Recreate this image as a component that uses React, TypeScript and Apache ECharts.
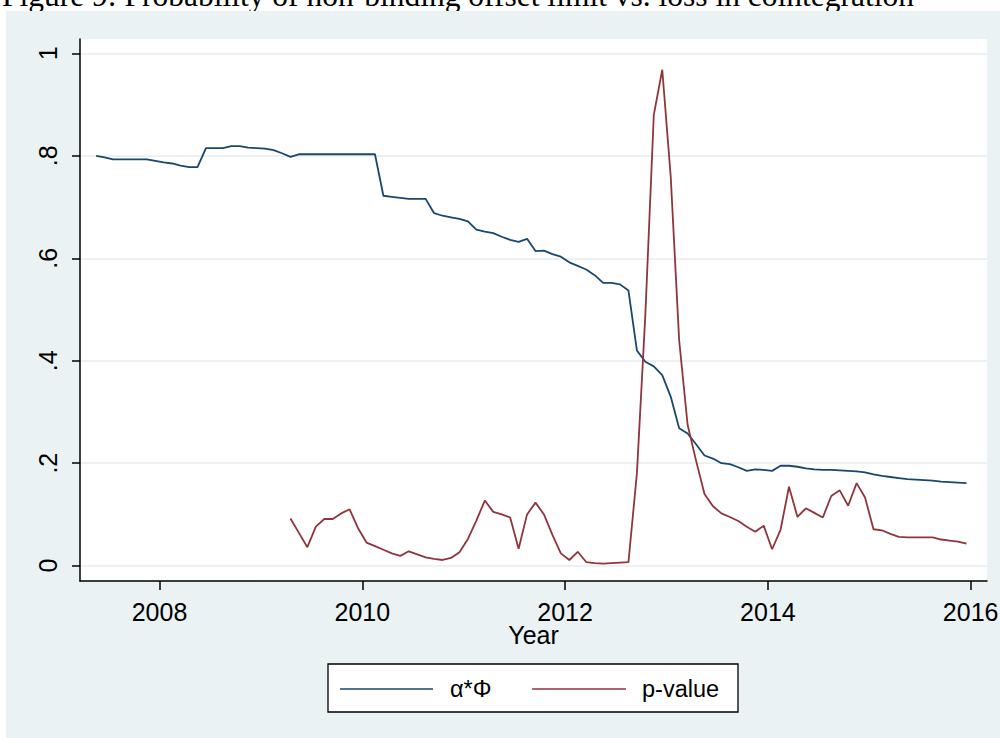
import React, { useEffect, useRef } from 'react';
import * as echarts from 'echarts';

const titleText = 'Figure 9: Probability of non-binding offset limit vs. loss in cointegration';
const seriesNames = ['α*Φ', 'p-value'];
const xAxisTitle = 'Year';

const alphaPhiStart = { year: 2007, month: 5 };
const pValueStart = { year: 2009, month: 4 };

const alphaPhi = [
  // 2007 (May–Dec)
  0.800, 0.797, 0.793, 0.793, 0.793, 0.793, 0.793, 0.790,
  // 2008
  0.787, 0.785, 0.781, 0.778, 0.778, 0.815, 0.815, 0.815, 0.819, 0.819, 0.816, 0.815,
  // 2009
  0.814, 0.811, 0.805, 0.798, 0.803, 0.803, 0.803, 0.803, 0.803, 0.803, 0.803, 0.803,
  // 2010
  0.803, 0.803, 0.722, 0.720, 0.718, 0.716, 0.716, 0.716, 0.688, 0.683, 0.680, 0.677,
  // 2011
  0.672, 0.656, 0.652, 0.649, 0.642, 0.636, 0.632, 0.638, 0.614, 0.615, 0.608, 0.603,
  // 2012
  0.592, 0.585, 0.578, 0.567, 0.552, 0.552, 0.549, 0.537, 0.420, 0.398, 0.389, 0.372,
  // 2013
  0.330, 0.268, 0.258, 0.237, 0.215, 0.209, 0.200, 0.198, 0.192, 0.185, 0.188, 0.187,
  // 2014
  0.185, 0.195, 0.195, 0.193, 0.190, 0.188, 0.187, 0.187, 0.186, 0.185, 0.184, 0.182,
  // 2015
  0.178, 0.175, 0.173, 0.171, 0.169, 0.168, 0.167, 0.166, 0.164, 0.163, 0.162, 0.161,
];

const pValue = [
  // 2009 (Apr–Dec)
  0.092, 0.064, 0.036, 0.076, 0.091, 0.091, 0.102, 0.110, 0.073,
  // 2010
  0.045, 0.038, 0.031, 0.024, 0.019, 0.028, 0.022, 0.016, 0.013, 0.011, 0.015, 0.026,
  // 2011
  0.052, 0.088, 0.127, 0.105, 0.100, 0.094, 0.033, 0.100, 0.123, 0.100, 0.060, 0.024,
  // 2012
  0.011, 0.027, 0.007, 0.005, 0.004, 0.005, 0.006, 0.007, 0.180, 0.490, 0.880, 0.968,
  // 2013
  0.760, 0.440, 0.275, 0.205, 0.140, 0.116, 0.102, 0.095, 0.087, 0.076, 0.066, 0.078,
  // 2014
  0.032, 0.070, 0.154, 0.095, 0.112, 0.103, 0.094, 0.136, 0.147, 0.117, 0.161, 0.133,
  // 2015
  0.071, 0.069, 0.062, 0.056, 0.055, 0.055, 0.055, 0.055, 0.051, 0.049, 0.047, 0.043,
];

const xTicks = [2008, 2010, 2012, 2014, 2016];
const yTicks = [0, 0.2, 0.4, 0.6, 0.8, 1];
const yTickLabels = ['0', '.2', '.4', '.6', '.8', '1'];

const NAVY = '#1a476f';
const MAROON = '#90353b';
const BG = '#eaf2f3';
const SANS = '"Liberation Sans", Arial, Helvetica, sans-serif';
const SERIF = '"Liberation Serif", "Times New Roman", serif';

function monthPosition(start: { year: number; month: number }, i: number) {
  const m = start.month - 1 + i;
  return start.year + (m + 0.5) / 12;
}

function buildOption() {
  const blueData = alphaPhi.map((v, i) => [monthPosition(alphaPhiStart, i), v]);
  const redData = pValue.map((v, i) => [monthPosition(pValueStart, i), v]);

  return {
    animation: false,
    backgroundColor: '#ffffff',
    grid: { left: 80, top: 39, width: 907, height: 542, show: false, containLabel: false, outerBoundsMode: 'none' },
    xAxis: {
      type: 'value',
      min: 2007.216,
      max: 2016.161,
      name: xAxisTitle,
      nameLocation: 'middle',
      nameGap: 41,
      nameMoveOverlap: false,
      nameTextStyle: { fontSize: 25, color: '#000', fontFamily: SANS },
      axisLine: { show: true, onZero: false, lineStyle: { color: '#000', width: 1.5 } },
      axisTick: { show: true, length: 9, customValues: xTicks, lineStyle: { color: '#000', width: 1.5 } },
      axisLabel: {
        show: true,
        customValues: xTicks,
        margin: 18,
        fontSize: 25,
        color: '#000',
        fontFamily: SANS,
        formatter: (v: number) => String(Math.round(v)),
      },
      splitLine: { show: false },
    },
    yAxis: {
      type: 'value',
      min: -0.030,
      max: 1.028,
      axisLine: { show: true, onZero: false, lineStyle: { color: '#000', width: 1.5 } },
      axisTick: { show: true, length: 8, customValues: yTicks, lineStyle: { color: '#000', width: 1.5 } },
      axisLabel: {
        show: true,
        customValues: yTicks,
        rotate: 90,
        margin: 20,
        fontSize: 25,
        color: '#000',
        fontFamily: SANS,
        formatter: (v: number) => {
          const idx = yTicks.findIndex((t) => Math.abs(t - v) < 1e-6);
          return idx >= 0 ? yTickLabels[idx] : '';
        },
      },
      splitLine: { show: true, lineStyle: { color: '#e6eef1', width: 1.6 } },
    },
    series: [
      {
        type: 'line',
        name: seriesNames[0],
        data: blueData,
        showSymbol: false,
        symbol: 'none',
        lineStyle: { color: NAVY, width: 1.8 },
        itemStyle: { color: NAVY },
        z: 3,
      },
      {
        type: 'line',
        name: seriesNames[1],
        data: redData,
        showSymbol: false,
        symbol: 'none',
        lineStyle: { color: MAROON, width: 1.8 },
        itemStyle: { color: MAROON },
        z: 3,
      },
    ],
    graphic: [
      {
        type: 'text',
        x: 2,
        y: -4.6,
        z: -20,
        silent: true,
        style: {
          text: titleText,
          fontSize: 31.5,
          fontFamily: SERIF,
          fill: '#000',
          align: 'left',
          verticalAlign: 'middle',
          textAlign: 'left',
          textVerticalAlign: 'middle',
        },
      },
      {
        type: 'rect',
        z: -10,
        silent: true,
        shape: { x: 6, y: 11, width: 994, height: 727 },
        style: { fill: BG },
      },
      {
        type: 'rect',
        z: -5,
        silent: true,
        shape: { x: 80, y: 39, width: 907, height: 542 },
        style: { fill: '#ffffff' },
      },
      {
        type: 'rect',
        z: 10,
        silent: true,
        shape: { x: 328, y: 664, width: 410, height: 48 },
        style: { fill: '#ffffff', stroke: '#000', lineWidth: 1.3 },
      },
      {
        type: 'line',
        z: 11,
        silent: true,
        shape: { x1: 340, y1: 689, x2: 433, y2: 689 },
        style: { stroke: NAVY, lineWidth: 1.6 },
      },
      {
        type: 'text',
        z: 11,
        silent: true,
        x: 450,
        y: 689,
        style: {
          text: seriesNames[0],
          fontSize: 23.5,
          fontFamily: SANS,
          fill: '#000',
          align: 'left',
          verticalAlign: 'middle',
          textAlign: 'left',
          textVerticalAlign: 'middle',
        },
      },
      {
        type: 'line',
        z: 11,
        silent: true,
        shape: { x1: 532, y1: 689, x2: 626, y2: 689 },
        style: { stroke: MAROON, lineWidth: 1.6 },
      },
      {
        type: 'text',
        z: 11,
        silent: true,
        x: 642,
        y: 689,
        style: {
          text: seriesNames[1],
          fontSize: 23.5,
          fontFamily: SANS,
          fill: '#000',
          align: 'left',
          verticalAlign: 'middle',
          textAlign: 'left',
          textVerticalAlign: 'middle',
        },
      },
    ],
  };
}

export default function App() {
  const ref = useRef<HTMLDivElement>(null);
  useEffect(() => {
    document.body.style.margin = '0';
    const el = ref.current;
    if (!el) return;
    const chart = echarts.init(el, null, { renderer: 'svg', width: 1000, height: 738 });
    chart.setOption(buildOption() as any);
    return () => {
      chart.dispose();
    };
  }, []);
  return <div ref={ref} style={{ width: 1000, height: 738, background: '#fff' }} />;
}
